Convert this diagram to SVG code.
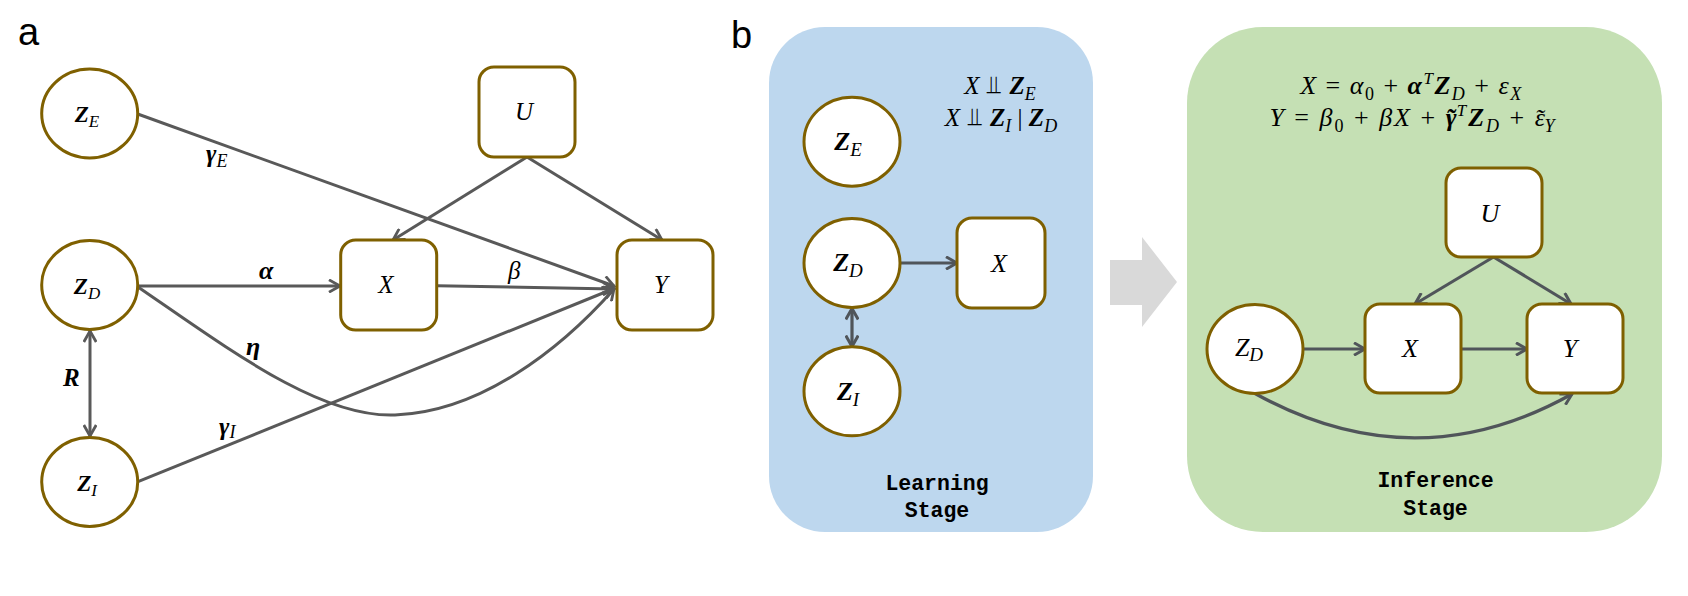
<svg xmlns="http://www.w3.org/2000/svg" width="1688" height="596" viewBox="0 0 1688 596">
<defs>
<style>
.bg{fill:#ffffff}
.node{fill:#ffffff;stroke:#7F6000;stroke-width:3}
.edge{fill:none;stroke:#595959;stroke-width:3}
.edgeb{fill:none;stroke:#50555a;stroke-width:3.2}
.panel-l{font-family:"Liberation Sans",Arial,sans-serif;font-size:38px;fill:#000}
.m{font-family:"Liberation Serif","DejaVu Serif",serif;fill:#000}
.i{font-style:italic}
.bi{font-style:italic;font-weight:bold}
.up{font-style:normal;font-weight:normal}
.sym{font-family:"DejaVu Sans","DejaVu Serif",sans-serif;font-style:normal;font-weight:normal}
.eq{letter-spacing:2px}
.eq1{letter-spacing:1.5px}
.stage{font-family:"Liberation Mono","DejaVu Sans Mono",monospace;font-weight:bold;font-size:21.5px;fill:#000}
</style>
<marker id="ah" viewBox="0 0 14 14" refX="12" refY="7" markerWidth="14" markerHeight="14" markerUnits="userSpaceOnUse" orient="auto-start-reverse">
<path d="M1,0.8 L12,7 L1,13.2" fill="none" stroke="#595959" stroke-width="2.8"/>
</marker>
<marker id="ahb" viewBox="0 0 14 14" refX="12" refY="7" markerWidth="14" markerHeight="14" markerUnits="userSpaceOnUse" orient="auto-start-reverse">
<path d="M1,0.8 L12,7 L1,13.2" fill="none" stroke="#50555a" stroke-width="3"/>
</marker>
</defs>
<rect class="bg" x="0" y="0" width="1688" height="596"/>

<!-- panel labels -->
<text class="panel-l" x="18" y="45">a</text>
<text class="panel-l" x="731" y="48">b</text>

<!-- panel b backgrounds -->
<g id="learning-panel">
<rect x="769" y="27" width="324" height="505" rx="56" ry="56" fill="#BDD7EE"/>
<text class="stage" x="937" y="490" text-anchor="middle">Learning</text>
<text class="stage" x="937" y="517" text-anchor="middle">Stage</text>
</g>
<g id="inference-panel">
<rect x="1187" y="27" width="475" height="505" rx="76" ry="76" fill="#C5E0B4"/>
<text class="stage" x="1435.5" y="487" text-anchor="middle">Inference</text>
<text class="stage" x="1435.5" y="515" text-anchor="middle">Stage</text>
</g>
<g id="stage-arrow">
<polygon points="1110,260 1142,260 1142,237 1177,282 1142,327 1142,305 1110,305" fill="#D9D9D9"/>
</g>

<!-- connectors -->
<g id="connectors">
<!-- panel a -->
<path class="edge" d="M137.7,114 L614,286" marker-end="url(#ah)"/>
<path class="edge" d="M527,157 L393,240" marker-end="url(#ah)"/>
<path class="edge" d="M527,157 L662,240" marker-end="url(#ah)"/>
<path class="edge" d="M138,286 L340,286" marker-end="url(#ah)"/>
<path class="edge" d="M437,285.7 L614,289" marker-end="url(#ah)"/>
<path class="edge" d="M138,481.7 L614,288.5" marker-end="url(#ah)"/>
<path class="edge" d="M138,287 C230,350 320,418 395,415 C480,412 560,350 614,289" marker-end="url(#ah)"/>
<path class="edge" d="M90,331 L90,436" marker-start="url(#ah)" marker-end="url(#ah)"/>
<!-- panel b learning -->
<path class="edgeb" d="M900,263 L957,263" marker-end="url(#ahb)"/>
<path class="edgeb" d="M852,308.5 L852,346.5" marker-start="url(#ahb)" marker-end="url(#ahb)"/>
<!-- panel b inference -->
<path class="edgeb" d="M1493.5,257 L1415,304" marker-end="url(#ahb)"/>
<path class="edgeb" d="M1493.5,257 L1571,304" marker-end="url(#ahb)"/>
<path class="edgeb" d="M1303,349 L1365,349" marker-end="url(#ahb)"/>
<path class="edgeb" d="M1461,349 L1527,349" marker-end="url(#ahb)"/>
<path class="edgeb" d="M1255,393.5 Q1415,482 1572,394" marker-end="url(#ahb)"/>
</g>

<!-- edge labels panel a -->
<g id="edge-labels">
<text class="m" x="206" y="162" font-size="25"><tspan class="bi">γ</tspan><tspan class="i" font-size="18" dy="5">E</tspan></text>
<text class="m bi" x="259" y="279" font-size="26">α</text>
<text class="m i" x="508" y="279" font-size="25">β</text>
<text class="m bi" x="246" y="355" font-size="26">η</text>
<text class="m bi" x="63" y="386" font-size="25">R</text>
<text class="m" x="219" y="435" font-size="25"><tspan class="bi">γ</tspan><tspan class="i" font-size="18" dy="3">I</tspan></text>
</g>

<!-- panel a nodes -->
<g id="a-ZE">
<ellipse class="node" cx="89.7" cy="113.5" rx="48" ry="44.5"/>
<text class="m" x="87" y="122" text-anchor="middle" font-size="23"><tspan class="bi">Z</tspan><tspan class="i" font-size="17" dy="5">E</tspan></text>
</g>
<g id="a-ZD">
<ellipse class="node" cx="89.7" cy="285" rx="48" ry="44.5"/>
<text class="m" x="87" y="293.5" text-anchor="middle" font-size="23"><tspan class="bi">Z</tspan><tspan class="i" font-size="17" dy="5">D</tspan></text>
</g>
<g id="a-ZI">
<ellipse class="node" cx="89.7" cy="482" rx="48" ry="44.5"/>
<text class="m" x="87" y="490.5" text-anchor="middle" font-size="23"><tspan class="bi">Z</tspan><tspan class="i" font-size="17" dy="5">I</tspan></text>
</g>
<g id="a-U">
<rect class="node" x="479" y="67" width="96" height="90" rx="15"/>
<text class="m i" x="524" y="120" text-anchor="middle" font-size="25">U</text>
</g>
<g id="a-X">
<rect class="node" x="340.7" y="240" width="96" height="90" rx="15"/>
<text class="m i" x="386" y="293" text-anchor="middle" font-size="25">X</text>
</g>
<g id="a-Y">
<rect class="node" x="617" y="240" width="96" height="90" rx="15"/>
<text class="m i" x="661" y="293" text-anchor="middle" font-size="25">Y</text>
</g>

<!-- panel b learning nodes -->
<g id="b1-ZE">
<ellipse class="node" cx="852" cy="141.7" rx="48" ry="44.5"/>
<text class="m" x="848" y="150" text-anchor="middle" font-size="26"><tspan class="bi">Z</tspan><tspan class="i" font-size="19" dy="6">E</tspan></text>
</g>
<g id="b1-ZD">
<ellipse class="node" cx="852" cy="263" rx="48" ry="44.5"/>
<text class="m" x="848" y="271" text-anchor="middle" font-size="26"><tspan class="bi">Z</tspan><tspan class="i" font-size="19" dy="6">D</tspan></text>
</g>
<g id="b1-ZI">
<ellipse class="node" cx="852" cy="391.3" rx="48" ry="44.5"/>
<text class="m" x="848" y="400" text-anchor="middle" font-size="26"><tspan class="bi">Z</tspan><tspan class="i" font-size="19" dy="6">I</tspan></text>
</g>
<g id="b1-X">
<rect class="node" x="957" y="218" width="88" height="90" rx="15"/>
<text class="m i" x="999" y="272" text-anchor="middle" font-size="26">X</text>
</g>
<g id="b1-indep">
<text class="m" x="1000" y="94" text-anchor="middle" font-size="25"><tspan class="i">X</tspan><tspan class="sym"> ⫫ </tspan><tspan class="bi">Z</tspan><tspan class="i" font-size="18" dy="6">E</tspan></text>
<text class="m" x="1001" y="126" text-anchor="middle" font-size="25"><tspan class="i">X</tspan><tspan class="sym"> ⫫ </tspan><tspan class="bi">Z</tspan><tspan class="i" font-size="18" dy="6">I</tspan><tspan class="up" dy="-6"> | </tspan><tspan class="bi">Z</tspan><tspan class="i" font-size="18" dy="6">D</tspan></text>
</g>

<!-- panel b inference nodes -->
<g id="b2-eq">
<text class="m eq1" x="1411.5" y="94" text-anchor="middle" font-size="26"><tspan class="i">X</tspan><tspan> = </tspan><tspan class="i">α</tspan><tspan font-size="18" dy="6">0</tspan><tspan dy="-6"> + </tspan><tspan class="bi">α</tspan><tspan class="i" font-size="17" dy="-10">T</tspan><tspan class="bi" dy="10">Z</tspan><tspan class="i" font-size="18" dy="6">D</tspan><tspan dy="-6"> + </tspan><tspan class="i">ε</tspan><tspan class="i" font-size="18" dy="6">X</tspan></text>
<text class="m eq" x="1413" y="126" text-anchor="middle" font-size="26"><tspan class="i">Y</tspan><tspan> = </tspan><tspan class="i">β</tspan><tspan font-size="18" dy="6">0</tspan><tspan dy="-6"> + </tspan><tspan class="i">βX</tspan><tspan> + </tspan><tspan class="bi">γ</tspan><tspan class="bi" dx="-12.5" dy="1">˜</tspan><tspan class="i" font-size="17" dx="0" dy="-11">T</tspan><tspan class="bi" dy="10">Z</tspan><tspan class="i" font-size="18" dy="6">D</tspan><tspan dy="-6"> + </tspan><tspan class="i">ε</tspan><tspan class="i" dx="-12" dy="1">˜</tspan><tspan class="i" font-size="18" dx="-1" dy="5">Y</tspan></text>
</g>
<g id="b2-U">
<rect class="node" x="1446" y="168" width="96" height="89" rx="15"/>
<text class="m i" x="1490" y="222" text-anchor="middle" font-size="26">U</text>
</g>
<g id="b2-X">
<rect class="node" x="1365" y="304" width="96" height="89" rx="15"/>
<text class="m i" x="1410" y="357" text-anchor="middle" font-size="26">X</text>
</g>
<g id="b2-Y">
<rect class="node" x="1527" y="304" width="96" height="89" rx="15"/>
<text class="m i" x="1570" y="357" text-anchor="middle" font-size="26">Y</text>
</g>
<g id="b2-ZD">
<ellipse class="node" cx="1255" cy="349" rx="48" ry="44.5"/>
<text class="m" x="1249" y="356" text-anchor="middle" font-size="26"><tspan class="i">Z</tspan><tspan class="i" font-size="19" dy="5">D</tspan></text>
</g>
</svg>
